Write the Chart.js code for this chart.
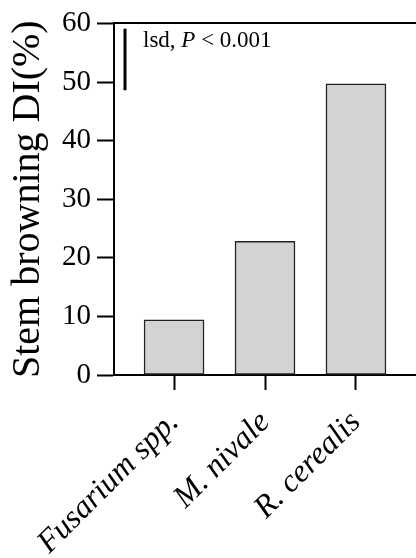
<!DOCTYPE html>
<html>
<head>
<meta charset="utf-8">
<script src="https://cdn.jsdelivr.net/npm/chart.js@4/dist/chart.umd.min.js"></script>
<style>
  body { margin: 0; background: #fff; }
</style>
</head>
<body>
<canvas id="graphic" width="416" height="558"></canvas>
<script>
  // data
  const categories = ["Fusarium spp.", "M. nivale", "R. cerealis"];
  const diValues = [9.4, 22.8, 49.7];
  const yTicks = [0, 10, 20, 30, 40, 50, 60];
  const lsdValue = [10.5];   // length of the lsd bar, in % units
  const lsdTop = [59.1];     // where the lsd bar starts

  const serif = "'Liberation Serif', 'Times New Roman', serif";

  // lsd bar + its label
  const lsdPlugin = {
    id: "lsd",
    afterDatasetsDraw(chart) {
      const ctx = chart.ctx;
      const y = chart.scales.y;
      const x0 = chart.chartArea.left + 11;
      ctx.save();
      ctx.strokeStyle = "#000";
      ctx.lineWidth = 3;
      ctx.beginPath();
      ctx.moveTo(x0, y.getPixelForValue(lsdTop[0]));
      ctx.lineTo(x0, y.getPixelForValue(lsdTop[0] - lsdValue[0]));
      ctx.stroke();

      ctx.fillStyle = "#000";
      ctx.textBaseline = "alphabetic";
      let tx = chart.chartArea.left + 29;
      const ty = 47;
      const parts = [["lsd, ", "normal"], ["P", "italic"], [" < 0.001", "normal"]];
      parts.forEach(function (p) {
        ctx.font = p[1] + " 23px " + serif;
        ctx.fillText(p[0], tx, ty);
        tx += ctx.measureText(p[0]).width;
      });
      ctx.restore();
    },
  };

  const ctx = document.getElementById("graphic").getContext("2d");
  const chart = new Chart(ctx, {
    type: "bar",
    data: {
      datasets: [
        {
          label: "Stem browning DI(%)",
          data: diValues.map(function (v, i) { return { x: i, y: v }; }),
          backgroundColor: "#d3d3d3",
          borderColor: "#222",
          borderWidth: 1.5,
          borderSkipped: false,
          barThickness: 60,
        },
      ],
    },
    options: {
      responsive: false,
      animation: false,
      layout: { padding: 0 },
      plugins: {
        legend: { display: false },
        tooltip: { enabled: false },
      },
      scales: {
        x: {
          type: "linear",
          min: -0.66,
          max: 2.66,
          offset: false,
          afterBuildTicks: function (scale) {
            scale.ticks = categories.map(function (c, i) { return { value: i }; });
          },
          afterFit: function (scale) { scale.height = 183; },
          grid: {
            offset: false,
            drawOnChartArea: false,
            tickLength: 15,
            tickWidth: 2,
            tickColor: "#000",
          },
          border: { color: "#000", width: 2 },
          ticks: {
            autoSkip: false,
            maxRotation: 45,
            minRotation: 45,
            padding: 14,
            color: "#000",
            font: { family: serif, size: 32, style: "italic" },
            callback: function (v) { return categories[v]; },
          },
        },
        x2: {
          type: "linear",
          position: "top",
          min: -0.66,
          max: 2.66,
          offset: false,
          afterFit: function (scale) { scale.height = 22; },
          grid: { display: false, offset: false },
          ticks: { display: false },
          border: { color: "#000", width: 2 },
        },
        y: {
          min: 0,
          max: 60,
          afterBuildTicks: function (scale) {
            scale.ticks = yTicks.map(function (v) { return { value: v }; });
          },
          afterFit: function (scale) { scale.width = 114; },
          grid: {
            drawOnChartArea: false,
            tickLength: 17,
            tickWidth: 2,
            tickColor: "#000",
          },
          border: { color: "#000", width: 2 },
          ticks: {
            padding: 6,
            color: "#000",
            font: { family: serif, size: 29 },
          },
          title: {
            display: true,
            text: "Stem browning DI(%)",
            color: "#000",
            padding: { top: 4, bottom: 0 },
            font: { family: serif, size: 40 },
          },
        },
      },
    },
    plugins: [lsdPlugin],
  });
</script>
</body>
</html>
